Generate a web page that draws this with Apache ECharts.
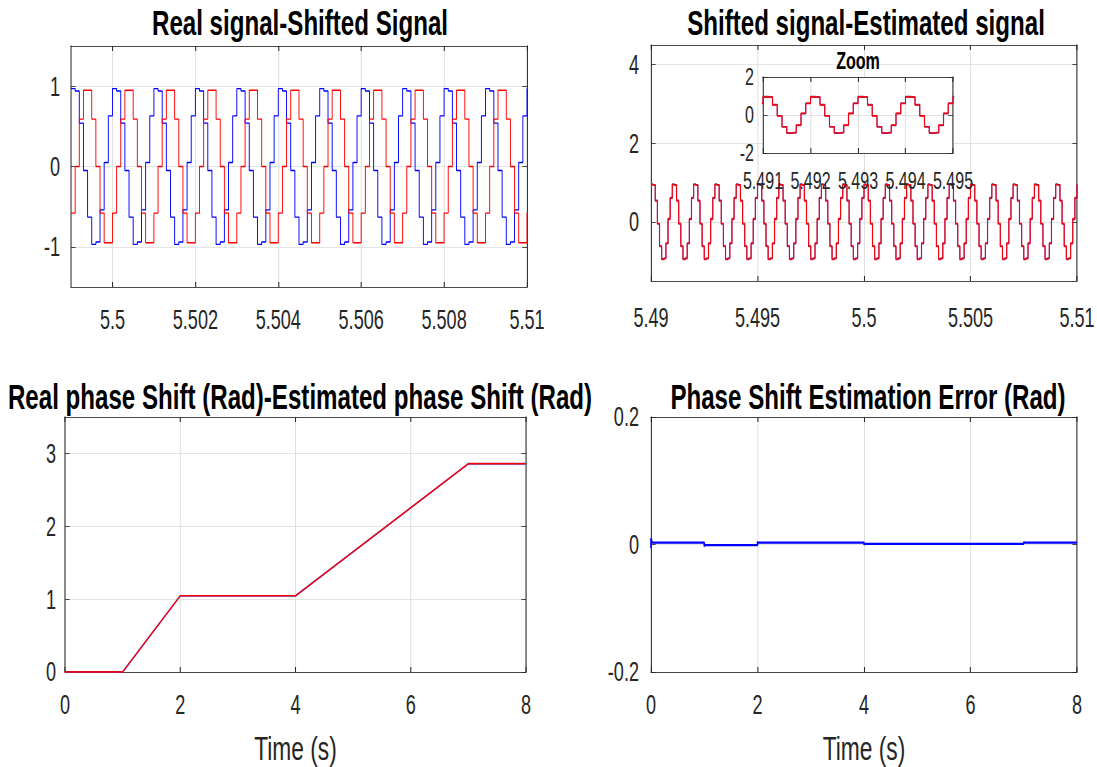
<!DOCTYPE html>
<html>
<head>
<meta charset="utf-8">
<script src="https://cdn.jsdelivr.net/npm/echarts@6/dist/echarts.min.js"></script>
<style>
  html, body { margin: 0; padding: 0; background: #fff; overflow: hidden; }
  #wrap { width: 1097px; height: 767px; overflow: hidden; }
  /* the original figure is a horizontally squeezed MATLAB export: draw wide, then squeeze */
  #chart { width: 1637px; height: 767px; transform: scaleX(0.67013); transform-origin: 0 0; }
</style>
</head>
<body>
<div id="wrap"><div id="chart"></div></div>
<script>
// one 1 ms period of each stepped waveform: 10 samples, each held for 0.1 ms
const sampleStep = 0.0001;
const realCycle = [0.97, 0.94, 0.54, -0.05, -0.63, -0.97, -0.94, -0.54, 0.05, 0.63];
const shiftedCycle = [-0.58, 0, 0.59, 0.95, 0.95, 0.59, 0, -0.58, -0.95, -0.95];
// top right plot (starts at 5.49)
const shiftedCycleB = [0.95, 0.95, 0.53, -0.04, -0.61, -0.94, -0.93, -0.53, 0.09, 0.6];
const estimatedCycleB = [0.96, 0.94, 0.55, -0.05, -0.62, -0.95, -0.92, -0.55, 0.07, 0.62];
const topLeftStart = 5.499;
const topLeftCycles = 11;
const topRightStart = 5.49;
const topRightCycles = 20;

// phase shift plots
const phaseTime = [0, 1, 2, 4, 7, 8];
const realPhase = [0, 0, 1.047, 1.047, 2.86, 2.86];
const estPhase = [0, 0, 1.045, 1.045, 2.858, 2.858];
const errTime = [0, 0, 0.02, 1, 1, 1.01, 2, 2, 2.01, 4, 4, 4.01, 7, 7, 7.01, 8];
const errValue = [-0.006, 0.01, 0.003, 0.003, -0.003, -0.001, -0.001, 0.004, 0.003, 0.003, -0.0005, 0.001, 0.001, 0.004, 0.003, 0.003];

// tick labels
const tlXTicks = [5.5, 5.502, 5.504, 5.506, 5.508, 5.51];
const tlYTicks = [-1, 0, 1];
const trXTicks = [5.49, 5.495, 5.5, 5.505, 5.51];
const trYTicks = [0, 2, 4];
const zoomXTicks = [5.491, 5.492, 5.493, 5.494, 5.495];
const zoomYTicks = [-2, 0, 2];
const blXTicks = [0, 2, 4, 6, 8];
const blYTicks = [0, 1, 2, 3];
const brYTicks = [-0.2, 0, 0.2];

const SX = 1097 / 1637;
const X = (px) => px / SX; // screen x -> unsqueezed chart x

const FONT = "'Liberation Sans', Arial, sans-serif";
const TEXT = '#262626';
const AXIS_COLOR = '#262626';
const GRID_COLOR = '#dfdfdf';
const BLUE = '#0000ff';
const RED = '#ff0000';
const PURPLE = '#7e2f8e';

function tile(cycle, start, cycles) {
  const pts = [];
  for (let c = 0; c < cycles; c++) {
    cycle.forEach((v, k) => pts.push([start + (c * cycle.length + k) * sampleStep, v]));
  }
  pts.push([start + cycles * cycle.length * sampleStep, cycle[0]]);
  return pts;
}

function makeAxes(dim, gridIndex, min, max, ticks, label, z) {
  const isX = dim === 'x';
  const base = {
    type: 'value', gridIndex, min, max, z: z || 0,
    axisLine: { show: true, onZero: false, lineStyle: { color: AXIS_COLOR, width: isX ? 1 : 1.5 } },
    axisTick: {
      show: true, inside: true, length: isX ? 5 : 7, customValues: ticks,
      lineStyle: { color: AXIS_COLOR, width: isX ? 1.5 : 1 },
    },
  };
  const main = Object.assign({}, base, {
    position: isX ? 'bottom' : 'left',
    axisLabel: {
      customValues: ticks, color: TEXT, fontFamily: FONT,
      fontSize: label.size, margin: label.margin,
      showMinLabel: true, showMaxLabel: true, hideOverlap: false,
      formatter: (v) => String(v),
    },
    splitLine: { show: true, lineStyle: { color: GRID_COLOR, width: isX ? 1.5 : 1 } },
  }, label.extra || {});
  const other = Object.assign({}, base, {
    position: isX ? 'top' : 'right',
    axisLabel: { show: false },
    splitLine: { show: false },
  });
  return [main, other];
}

const timeName = {
  name: 'Time (s)', nameLocation: 'middle', nameGap: 59,
  nameTextStyle: { color: TEXT, fontFamily: FONT, fontSize: 34 },
};

const xAxis = [].concat(
  makeAxes('x', 0, 5.499, 5.51, tlXTicks, { size: 27, margin: 19 }),
  makeAxes('x', 1, 5.49, 5.51, trXTicks, { size: 27, margin: 23 }),
  makeAxes('x', 2, 0, 8, blXTicks, { size: 27, margin: 19, extra: timeName }),
  makeAxes('x', 3, 0, 8, blXTicks, { size: 27, margin: 19, extra: timeName }),
  makeAxes('x', 4, 5.491, 5.495, zoomXTicks, { size: 24, margin: 16 }, 11)
);
const yAxis = [].concat(
  makeAxes('y', 0, -1.5, 1.5, tlYTicks, { size: 27, margin: X(11) }),
  makeAxes('y', 1, -1.5, 4.5, trYTicks, { size: 27, margin: X(12) }),
  makeAxes('y', 2, 0, 3.5, blYTicks, { size: 27, margin: X(9) }),
  makeAxes('y', 3, -0.2, 0.2, brYTicks, { size: 27, margin: X(12) }),
  makeAxes('y', 4, -2, 2, zoomYTicks, { size: 24, margin: X(9) }, 11)
);

function stepLine(name, data, gridIdx, color, width, z) {
  return {
    name, type: 'line', data, step: 'end',
    xAxisIndex: gridIdx * 2, yAxisIndex: gridIdx * 2,
    showSymbol: false, clip: true, z: z || 2,
    lineStyle: { color, width }, itemStyle: { color },
  };
}

const trShifted = tile(shiftedCycleB, topRightStart, topRightCycles);
const trEstimated = tile(estimatedCycleB, topRightStart, topRightCycles);

const series = [
  stepLine('Real signal', tile(realCycle, topLeftStart, topLeftCycles), 0, BLUE, 1.4),
  stepLine('Shifted signal', tile(shiftedCycle, topLeftStart, topLeftCycles), 0, RED, 1.4),
  stepLine('Estimated signal', trEstimated, 1, PURPLE, 1.8),
  stepLine('Shifted signal', trShifted, 1, RED, 1.4),
  stepLine('Estimated signal', trEstimated, 4, PURPLE, 1.8, 12),
  stepLine('Shifted signal', trShifted, 4, RED, 1.4, 12),
  {
    name: 'Estimated phase shift', type: 'line', xAxisIndex: 4, yAxisIndex: 4,
    data: phaseTime.map((t, i) => [t, estPhase[i]]),
    showSymbol: false, lineStyle: { color: PURPLE, width: 1.8 },
  },
  {
    name: 'Real phase shift', type: 'line', xAxisIndex: 4, yAxisIndex: 4,
    data: phaseTime.map((t, i) => [t, realPhase[i]]),
    showSymbol: false, lineStyle: { color: RED, width: 1.3 },
  },
  {
    name: 'Phase shift error', type: 'line', xAxisIndex: 6, yAxisIndex: 6,
    data: errTime.map((t, i) => [t, errValue[i]]),
    showSymbol: false, lineStyle: { color: BLUE, width: 2.4 },
  },
];

const titleStyle = { color: '#000', fontFamily: FONT, fontWeight: 'bold', fontSize: 36 };
const chart = echarts.init(document.getElementById('chart'), null, { renderer: 'svg' });
chart.setOption({
  backgroundColor: '#fff',
  animation: false,
  title: [
    { text: 'Real signal-Shifted Signal', left: X(300), top: 4 },
    { text: 'Shifted signal-Estimated signal', left: X(866), top: 4 },
    { text: 'Real phase Shift (Rad)-Estimated phase Shift (Rad)', left: X(300), top: 378 },
    { text: 'Phase Shift Estimation Error (Rad)', left: X(868), top: 378 },
    { text: 'Zoom', left: X(858), top: 49, z: 12, textStyle: Object.assign({}, titleStyle, { fontSize: 24 }) },
  ].map((t) => Object.assign({ textAlign: 'center', padding: 0, textStyle: titleStyle }, t)),
  grid: [
    { left: X(71), top: 46, width: X(456), height: 241 },
    { left: X(651), top: 45, width: X(426), height: 236 },
    { left: X(65), top: 417, width: X(461), height: 255 },
    { left: X(651), top: 417, width: X(426), height: 255 },
    { left: X(763), top: 77, width: X(190), height: 76, show: true, backgroundColor: '#fff', borderWidth: 0, z: 10 },
  ].map((g) => Object.assign({ containLabel: false, outerBoundsMode: 'none' }, g)),
  xAxis,
  yAxis,
  series,
});
</script>
</body>
</html>
